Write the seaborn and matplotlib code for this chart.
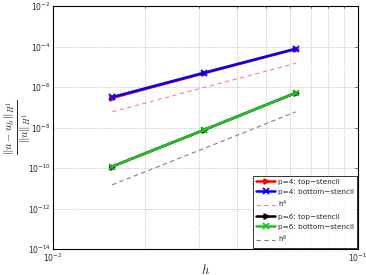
import numpy as np
import pandas as pd
import matplotlib
matplotlib.use('Agg')
import matplotlib.pyplot as plt
import seaborn as sns
from matplotlib.ticker import LogLocator, NullLocator, NullFormatter

h = [1/64, 1/32, 1/16]
err_p4_top = [2.9e-7, 4.8e-6, 7.5e-5]
err_p4_bottom = [3.2e-7, 5.1e-6, 7.8e-5]
ref_h4 = [6.0e-8, 9.5e-7, 1.5e-5]
err_p6_top = [1.2e-10, 7.6e-9, 5.2e-7]
err_p6_bottom = [1.2e-10, 7.6e-9, 5.2e-7]
ref_h6 = [1.5e-11, 9.3e-10, 6.0e-8]

labels = ['p=4: top\u2212stencil', 'p=4: bottom\u2212stencil', '$\\mathregular{h^4}$',
          'p=6: top\u2212stencil', 'p=6: bottom\u2212stencil', '$\\mathregular{h^6}$']

sns.set_style('white')
plt.rcParams['font.family'] = ['DejaVu Sans']
plt.rcParams['mathtext.fontset'] = 'cm'

fig = plt.figure(figsize=(3.66, 2.75), dpi=100)
ax = fig.add_axes([0.145, 0.094, 0.833, 0.884])

series = [
    (err_p4_top, 'red', '>', 3.5, '-', 1.8),
    (err_p4_bottom, 'blue', 'x', 4, '-', 1.8),
    (ref_h4, '#ff8080', '', 0, (0, (4, 3)), 0.8),
    (err_p6_top, 'black', '>', 3.5, '-', 1.8),
    (err_p6_bottom, '#20c020', 'x', 4, '-', 1.8),
    (ref_h6, '#808080', '', 0, (0, (4, 3)), 0.8),
]
for (vals, col, mk, ms, ls, lw), lab in zip(series, labels):
    df = pd.DataFrame({'h': h, 'err': vals})
    sns.lineplot(data=df, x='h', y='err', ax=ax, label=lab, color=col,
                 marker=mk if mk else None, markersize=ms,
                 markeredgecolor=col, markerfacecolor=col, markeredgewidth=1.3,
                 linestyle=ls, linewidth=lw)

ax.set_xscale('log')
ax.set_yscale('log')
ax.set_xlim(1e-2, 1e-1)
ax.set_ylim(1e-14, 1e-2)
ax.yaxis.set_major_locator(LogLocator(base=100))
ax.yaxis.set_minor_locator(NullLocator())
ax.xaxis.set_minor_locator(LogLocator(base=10, subs=np.arange(2, 10)))
ax.xaxis.set_minor_formatter(NullFormatter())

ax.grid(True, which='major', axis='both', linestyle=':', color='#b0b0b0', linewidth=0.6)
ax.grid(True, which='minor', axis='x', linestyle=':', color='#b0b0b0', linewidth=0.6)
ax.tick_params(which='both', direction='in', top=True, right=True, labelsize=5.5,
               length=2.5, width=0.5, pad=2)
ax.tick_params(which='minor', length=1.5)
for s in ax.spines.values():
    s.set_linewidth(0.8)
    s.set_color('black')

ax.set_xlabel('$h$', fontsize=9)
ax.xaxis.set_label_coords(0.5, -0.055)
ax.set_ylabel(r'$\frac{\|u - u_h\|_{H^1}}{\|u\|_{H^1}}$', fontsize=11.5)
ax.yaxis.set_label_coords(-0.07, 0.5)

leg = ax.legend(loc='lower right', fontsize=5.2, frameon=True, fancybox=False,
                borderaxespad=0.15, handlelength=2.6, labelspacing=0.55,
                borderpad=0.4, handletextpad=0.4)
leg.get_frame().set_edgecolor('black')
leg.get_frame().set_linewidth(0.7)

fig.savefig('out.png', dpi=100)
